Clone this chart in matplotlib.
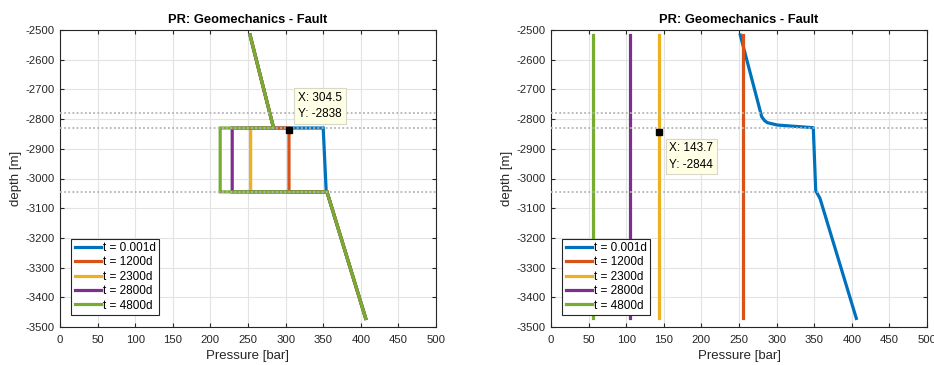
import numpy as np
import matplotlib
matplotlib.use("Agg")
import matplotlib.pyplot as plt

plt.rcParams['font.family'] = ['Liberation Sans', 'DejaVu Sans']
plt.rcParams['axes.unicode_minus'] = False

labels = ["t = 0.001d", "t = 1200d", "t = 2300d", "t = 2800d", "t = 4800d"]
colors = ["#0072BD", "#D95319", "#EDB120", "#7E2F8E", "#77AC30"]

# left panel: pressure along fault, inner block pressure changes with time
depth_l = [-2517, -2830, -2830, -3045, -3045, -3471]
p_l = [
    [252.7, 284, 350.0, 354.0, 355, 406.5],
    [252.7, 284, 304.5, 304.5, 355, 406.5],
    [252.7, 284, 253.5, 253.5, 355, 406.5],
    [252.7, 284, 229.0, 229.0, 355, 406.5],
    [252.7, 284, 213.0, 213.0, 355, 406.5],
]

# right panel
depth_r0 = [-2517, -2792, -2805, -2812, -2820, -2829, -3041, -3067, -3471]
p_r0 = [251.7, 280.2, 284, 287.7, 301, 348.8, 352, 357.7, 406]
depth_r = [-2517, -3471]
p_r = [255.3, 144.0, 104.6, 55.9]

layers = [-2780, -2830, -3045]
tips = [(304.5, -2838), (143.7, -2844)]

fig = plt.figure(figsize=(9.34, 3.65), dpi=100)
ax1 = fig.add_axes([60/934, 38/365, 376/934, 297/365])
ax2 = fig.add_axes([551/934, 38/365, 376/934, 297/365])

for i in range(5):
    ax1.plot(p_l[i], depth_l, color=colors[i], lw=2.3, label=labels[i],
             solid_joinstyle='miter')

ax2.plot(p_r0, depth_r0, color=colors[0], lw=2.3, label=labels[0])
for i in range(4):
    ax2.plot([p_r[i], p_r[i]], depth_r, color=colors[i+1], lw=2.3, label=labels[i+1])

for ax in (ax1, ax2):
    for d in layers:
        ax.axhline(d, color="#b4b4b4", lw=1.3, ls=(0, (1, 1.3)), zorder=5)
    ax.set_xlim(0, 500)
    ax.set_ylim(-3500, -2500)
    ax.set_xticks(np.arange(0, 501, 50))
    ax.set_yticks(np.arange(-3500, -2499, 100))
    ax.grid(True, color="#e3e3e3", lw=0.8)
    ax.set_axisbelow(True)
    ax.tick_params(direction='in', length=3, labelsize=8.2, colors="#262626", pad=4,
                   top=True, right=True)
    ax.tick_params(axis='x', pad=6)
    for s in ax.spines.values():
        s.set_color("#262626")
        s.set_linewidth(0.8)
    ax.set_title("PR: Geomechanics - Fault", fontsize=9.3, fontweight='bold', pad=5)
    ax.set_xlabel("Pressure [bar]", fontsize=9.5, color="#262626", labelpad=3)
    ax.set_ylabel("depth [m]", fontsize=9.5, color="#262626", labelpad=2)
    leg = ax.legend(loc='lower left', bbox_to_anchor=(0.03, 0.04), fontsize=8.5,
                    handlelength=2.2, handletextpad=0.15, labelspacing=0.2,
                    borderpad=0.3, borderaxespad=0, fancybox=False, framealpha=1)
    leg.get_frame().set_edgecolor("#262626")
    leg.get_frame().set_linewidth(0.8)

bbox = dict(boxstyle='square,pad=0.3', fc="#ffffe6", ec="#d8d8c8", lw=0.8)
x, y = tips[0]
ax1.plot(x, y, 's', color='k', ms=5, zorder=10)
ax1.annotate("X: %.1f\nY: %d" % (x, y), (x, y), xytext=(9, 10), textcoords='offset pixels',
             ha='left', va='bottom', fontsize=8.5, bbox=bbox, zorder=11, linespacing=1.5)
x, y = tips[1]
ax2.plot(x, y, 's', color='k', ms=5, zorder=10)
ax2.annotate("X: %.1f\nY: %d" % (x, y), (x, y), xytext=(10, -10), textcoords='offset pixels',
             ha='left', va='top', fontsize=8.5, bbox=bbox, zorder=11, linespacing=1.5)

fig.savefig("out.png", dpi=100)
